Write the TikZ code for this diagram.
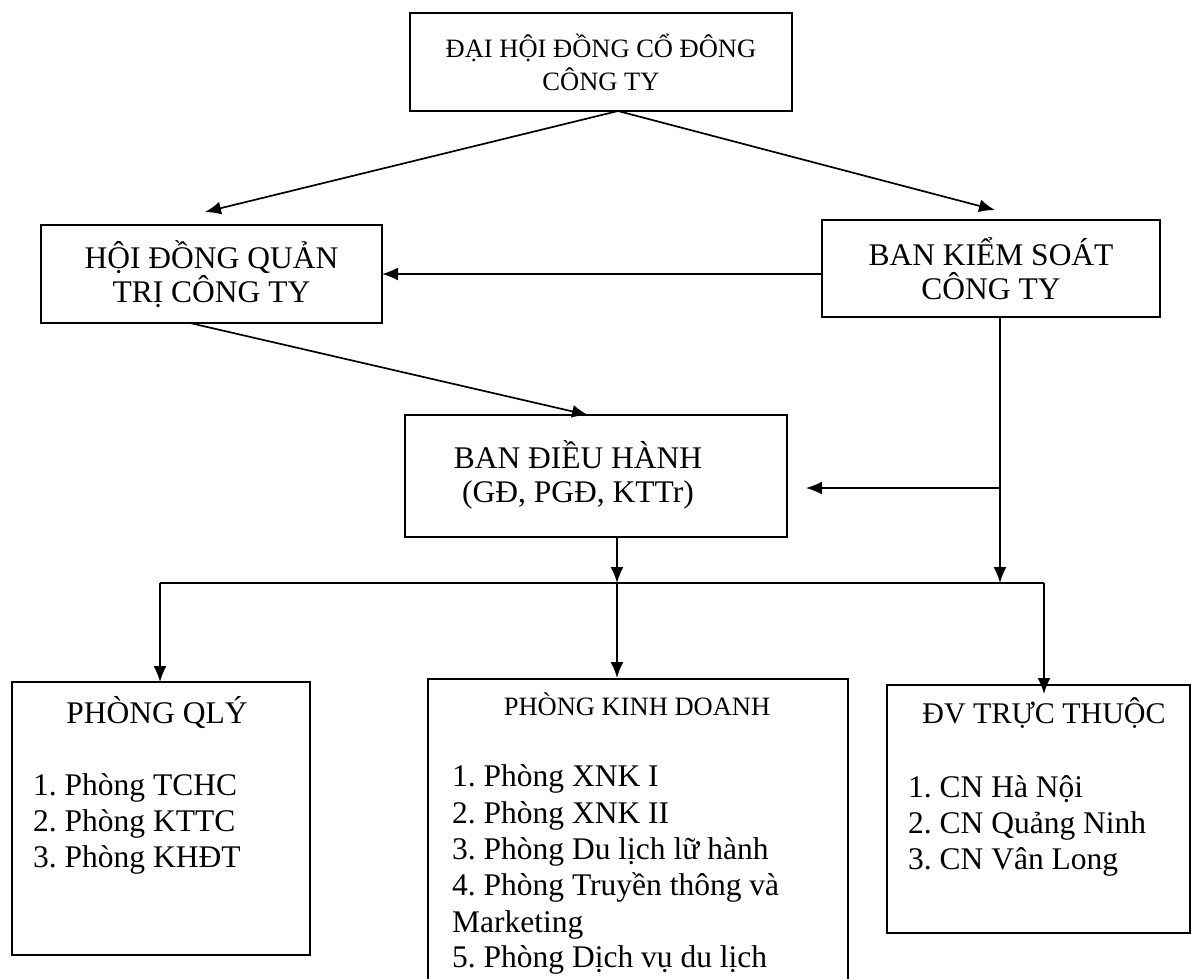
\documentclass[tikz,border=0pt]{standalone}
\usepackage{fontspec}
\setmainfont{Liberation Serif}
\usetikzlibrary{arrows.meta}
\frenchspacing
\begin{document}
\begin{tikzpicture}[x=1pt,y=-1pt,
  box/.style={draw, line width=1.7pt, inner sep=0pt, outer sep=0pt, align=center},
  bigtxt/.style={font=\fontsize{31.5}{34}\selectfont},
  smalltxt/.style={font=\fontsize{26.5}{33}\selectfont},
  item/.style={font=\fontsize{31.5}{36}\selectfont\frenchspacing, inner sep=0pt, anchor=base west},
  title/.style={inner sep=0pt, anchor=base},
  conn/.style={line width=1.7pt},
  arr/.style={conn, -{Latex[length=16pt,width=13pt]}},
]
\useasboundingbox[fill=white] (0,0) rectangle (1194,978);

% boxes
\node[box, smalltxt, minimum width=382pt, minimum height=98pt] (dh) at (601,62)
  {ĐẠI HỘI ĐỒNG CỔ ĐÔNG\\CÔNG TY};
\node[box, bigtxt, minimum width=341pt, minimum height=98pt] (hd) at (211.5,274)
  {HỘI ĐỒNG QUẢN\\TRỊ CÔNG TY};
\node[box, bigtxt, minimum width=338pt, minimum height=97pt] (bks) at (991,268.5)
  {BAN KIỂM SOÁT\\CÔNG TY};
\node[box, minimum width=382pt, minimum height=122pt] (bdh) at (596,476) {};
\node[bigtxt, align=center, inner sep=0pt] (bdhtxt) at (578,475)
  {BAN ĐIỀU HÀNH\\(GĐ, PGĐ, KTTr)};

\node[box, minimum width=298pt, minimum height=273pt] (pq) at (161,818.5) {};
\node[box, minimum width=420pt, minimum height=321pt] (pkd) at (638,839.5) {};
\node[box, minimum width=303pt, minimum height=248pt] (dv) at (1038.5,809) {};

% box contents
\node[title, font=\fontsize{31.5}{36}\selectfont] (pqt) at (157,723) {PHÒNG QLÝ};
\node[item] (pq1) at (33,795) {1. Phòng TCHC};
\node[item] (pq2) at (33,831) {2. Phòng KTTC};
\node[item] (pq3) at (33,867) {3. Phòng KHĐT};

\node[title, font=\fontsize{26.5}{33}\selectfont] (pkdt) at (637,715) {PHÒNG KINH DOANH};
\node[item] (pk1) at (452,786) {1. Phòng XNK I};
\node[item] (pk2) at (452,823) {2. Phòng XNK II};
\node[item] (pk3) at (452,859) {3. Phòng Du lịch lữ hành};
\node[item] (pk4) at (452,895) {4. Phòng Truyền thông và};
\node[item] (pk5) at (452,932) {Marketing};
\node[item] (pk6) at (452,967) {5. Phòng Dịch vụ du lịch};

\node[title, font=\fontsize{30}{36}\selectfont] (dvt) at (1044,723) {ĐV TRỰC THUỘC};
\node[item] (dv1) at (908,797) {1. CN Hà Nội};
\node[item] (dv2) at (908,833) {2. CN Quảng Ninh};
\node[item] (dv3) at (908,869) {3. CN Vân Long};

% connector points
\coordinate (apex) at (618,111);
\coordinate (tipL) at (205,212);
\coordinate (tipR) at (995,210);
\coordinate (hdout) at (190,323);
\coordinate (bdhin) at (588,415);
\coordinate (jr) at (1000,488);
\coordinate (jb) at (1000,583);
\coordinate (bdhtip) at (806,488);
\coordinate (cL) at (160,583);
\coordinate (cM) at (617,583);
\coordinate (cR) at (1044,583);

% connectors
\draw[arr] (apex) -- (tipL);
\draw[arr] (apex) -- (tipR);
\draw[arr] (bks.west |- hd.east) -- (hd.east);
\draw[arr] (hdout) -- (bdhin);
\draw[arr] (bks.south -| jb) -- (jb);
\draw[arr] (jr) -- (bdhtip);
\draw[arr] (bdh.south -| cM) -- (cM);
\draw[conn] (cL) -- (cR);
\draw[arr] (cL) -- (cL |- pq.north);
\draw[arr] (cM) -- ([yshift=1pt]cM |- pkd.north);
\draw[arr] (cR) -- ([yshift=-9pt]cR |- dv.north);
\end{tikzpicture}
\end{document}
